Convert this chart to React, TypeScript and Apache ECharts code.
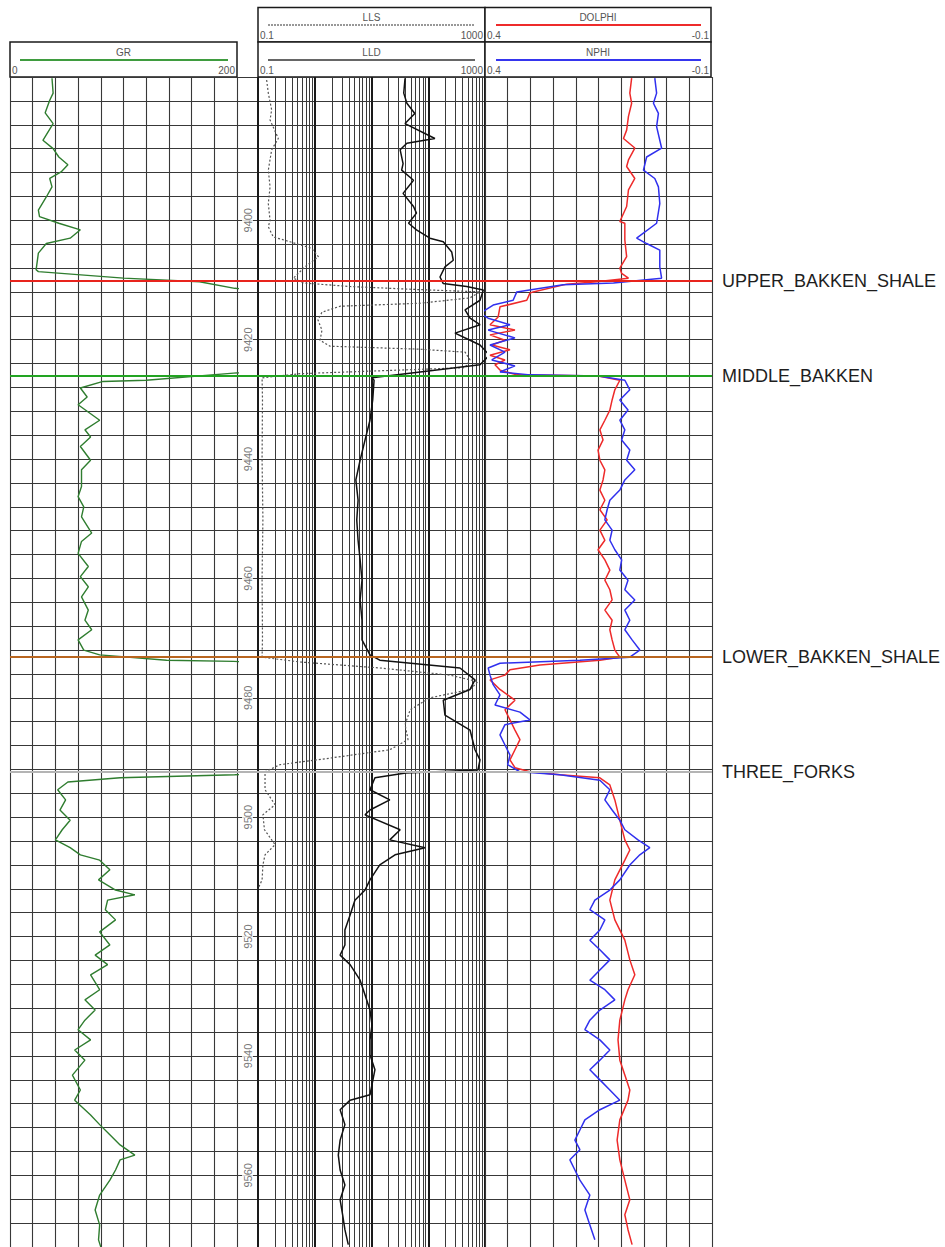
import React, { useEffect, useRef } from "react";
import * as echarts from "echarts";

// ---------- DATA ----------
const depthMin = 9376;
const depthMax = 9572;
const depthStep = 4;
const depthLabels = [9400, 9420, 9440, 9460, 9480, 9500, 9520, 9540, 9560];

const topNames = ["UPPER_BAKKEN_SHALE", "MIDDLE_BAKKEN", "LOWER_BAKKEN_SHALE", "THREE_FORKS"];
const topDepths = [9410.1, 9426.1, 9473.2, 9492.4];

const logMinorTicks = [
  0.2, 0.3, 0.4, 0.5, 0.6, 0.7, 0.8, 0.9,
  2, 3, 4, 5, 6, 7, 8, 9,
  20, 30, 40, 50, 60, 70, 80, 90,
  200, 300, 400, 500, 600, 700, 800, 900,
];

// [depth, GR (API)]
const grLog = [
  [9376.2, 37], [9378.7, 38], [9379.9, 35], [9382.0, 31], [9383.8, 38], [9386.6, 29], [9388.0, 38],
  [9389.4, 43], [9390.7, 51], [9391.9, 45], [9393.0, 35], [9394.4, 37], [9396.1, 32], [9398.3, 25],
  [9399.4, 26], [9400.5, 43], [9401.6, 62], [9403.0, 53], [9403.9, 32], [9405.5, 25], [9408.3, 23],
  [9408.6, 25], [9409.7, 100], [9410.3, 167], [9411.4, 198], [9412.0, 240], [9418.0, 320], [9425.0, 250],
  [9425.6, 197], [9426.8, 120], [9427.0, 82], [9428.1, 62], [9429.6, 68], [9430.9, 60], [9433.5, 79],
  [9435.1, 66], [9436.3, 71], [9437.9, 62], [9440.2, 71], [9441.8, 63], [9444.6, 63], [9446.3, 60],
  [9448.0, 65], [9449.7, 63], [9452.4, 72], [9453.8, 63], [9455.8, 60], [9458.0, 69], [9459.7, 62],
  [9461.4, 69], [9463.1, 63], [9465.3, 69], [9467.0, 66], [9468.6, 72], [9470.3, 60], [9472.0, 65],
  [9472.8, 79], [9473.7, 138], [9473.9, 197], [9474.5, 260], [9483.0, 400], [9492.4, 260], [9492.9, 198],
  [9493.4, 97], [9494.1, 51], [9495.4, 42], [9497.1, 49], [9498.8, 44], [9500.5, 53], [9502.1, 46],
  [9503.8, 40], [9505.1, 53], [9506.3, 62], [9507.2, 79], [9508.8, 88], [9510.5, 78], [9512.2, 93],
  [9513.0, 110], [9513.9, 86], [9515.5, 84], [9517.2, 93], [9519.2, 79], [9521.4, 88], [9523.1, 75],
  [9524.7, 86], [9526.4, 71], [9528.9, 79], [9530.6, 66], [9532.3, 75], [9534.0, 66], [9535.6, 60],
  [9537.3, 71], [9539.0, 57], [9540.7, 66], [9543.2, 55], [9545.7, 62], [9547.4, 57], [9549.9, 71],
  [9551.5, 79], [9553.2, 88], [9554.9, 97], [9556.6, 110], [9557.4, 97], [9559.1, 93], [9560.8, 88],
  [9563.3, 79], [9565.8, 75], [9568.3, 79], [9570.8, 78], [9572.0, 80],
];

// [depth, LLD (ohm.m)]
const lldLog = [
  [9376.2, 39], [9378.7, 37], [9380.4, 42], [9382.1, 58], [9383.8, 39], [9386.3, 131], [9387.1, 42],
  [9388.2, 32], [9390.5, 36], [9391.6, 34], [9393.3, 55], [9395.5, 36], [9397.7, 55], [9398.8, 62],
  [9400.5, 45], [9401.6, 62], [9403.0, 107], [9403.6, 184], [9405.3, 259], [9406.7, 276], [9407.8, 197],
  [9409.5, 161], [9410.6, 184], [9411.1, 476], [9411.7, 933], [9413.4, 817], [9415.0, 445], [9416.4, 545],
  [9417.5, 817], [9418.9, 296], [9420.1, 545], [9420.9, 817], [9422.6, 1200], [9424.2, 817], [9425.4, 72],
  [9426.4, 10.2], [9426.8, 11.1], [9430.1, 10.5], [9433.5, 9.4], [9436.8, 7.7], [9440.2, 6.3], [9443.5, 5.3],
  [9446.9, 5.8], [9450.2, 5.5], [9453.6, 5.8], [9456.9, 6.3], [9460.3, 6.8], [9463.6, 6.3], [9467.0, 6.8],
  [9470.3, 6.8], [9472.8, 9.4], [9473.7, 14], [9475.0, 362], [9477.0, 666], [9478.6, 545], [9480.4, 184],
  [9482.9, 197], [9485.4, 545], [9488.7, 666], [9490.4, 817], [9492.1, 750], [9492.6, 40], [9493.4, 11.5],
  [9495.4, 9.4], [9497.1, 21], [9498.8, 9.4], [9499.6, 7.7], [9502.1, 32], [9503.8, 21], [9505.1, 88],
  [9506.3, 26], [9508.0, 14], [9510.5, 9.4], [9512.2, 7.7], [9513.9, 5.1], [9516.4, 4.2], [9518.9, 3.4],
  [9521.4, 3.4], [9523.1, 2.8], [9524.7, 4.2], [9527.3, 6.3], [9529.8, 7.7], [9532.3, 9.4], [9534.8, 10.2],
  [9537.3, 9.4], [9539.8, 9.4], [9542.3, 11.5], [9544.8, 10.2], [9546.5, 9.4], [9547.4, 4.2], [9549.0, 2.8],
  [9551.5, 3.4], [9554.1, 2.8], [9556.6, 2.6], [9559.1, 2.8], [9561.6, 3.4], [9564.1, 2.8], [9566.6, 3.1],
  [9569.1, 3.4], [9571.6, 3.9],
];

// [depth, LLS (ohm.m)]
const llsLog = [
  [9376.5, 0.142], [9378.7, 0.152], [9381.5, 0.174], [9383.2, 0.163], [9386.3, 0.228], [9388.2, 0.174],
  [9391.6, 0.152], [9394.4, 0.163], [9397.2, 0.152], [9400.0, 0.163], [9401.1, 0.152], [9402.8, 0.186],
  [9403.6, 0.366], [9404.7, 0.88], [9406.1, 1.16], [9407.8, 0.67], [9409.7, 0.42], [9410.5, 0.63],
  [9411.1, 4.2], [9411.6, 62], [9412.0, 817], [9413.0, 545], [9413.9, 72], [9414.4, 2.8], [9415.4, 1.34],
  [9416.7, 1.14], [9418.4, 1.34], [9420.1, 1.24], [9421.1, 1.86], [9421.6, 72], [9422.1, 445], [9423.4, 545],
  [9424.7, 445], [9425.7, 0.55], [9426.4, 0.118], [9430.0, 0.12], [9440.0, 0.118], [9450.0, 0.122],
  [9460.0, 0.118], [9470.0, 0.12], [9473.2, 0.118], [9474.0, 0.55], [9475.0, 14], [9476.2, 241], [9477.3, 753],
  [9478.6, 545], [9480.0, 107], [9482.0, 48], [9484.5, 39], [9487.0, 44], [9488.7, 21], [9490.1, 1.86],
  [9491.2, 0.244], [9492.4, 0.133], [9495.4, 0.133], [9497.9, 0.2], [9499.6, 0.122], [9502.1, 0.13],
  [9504.6, 0.2], [9506.3, 0.133], [9508.0, 0.122], [9510.5, 0.118], [9512.0, 0.1],
];

// [depth, DOLPHI (v/v)]
const dolphiLog = [
  [9376.2, 0.077], [9378.7, 0.081], [9380.4, 0.077], [9382.6, 0.084], [9384.9, 0.088], [9386.3, 0.095],
  [9387.9, 0.07], [9389.9, 0.084], [9391.0, 0.088], [9393.0, 0.07], [9394.9, 0.084], [9397.7, 0.088],
  [9400.2, 0.103], [9400.5, 0.092], [9403.3, 0.092], [9406.1, 0.088], [9408.0, 0.103], [9408.9, 0.099],
  [9409.7, 0.084], [9410.3, 0.154], [9410.7, 0.22], [9412.0, 0.294], [9412.2, 0.301], [9413.4, 0.308],
  [9414.5, 0.367], [9416.2, 0.371], [9417.5, 0.389], [9418.4, 0.334], [9419.2, 0.389], [9420.1, 0.356],
  [9420.9, 0.385], [9421.7, 0.345], [9422.6, 0.389], [9423.4, 0.356], [9424.2, 0.378], [9425.1, 0.367],
  [9425.9, 0.33], [9426.1, 0.15], [9426.8, 0.103], [9428.4, 0.114], [9430.1, 0.12], [9431.8, 0.125],
  [9433.5, 0.136], [9435.1, 0.147], [9436.8, 0.14], [9438.5, 0.151], [9440.2, 0.147], [9441.8, 0.136],
  [9443.5, 0.14], [9445.2, 0.147], [9446.9, 0.136], [9448.5, 0.147], [9450.2, 0.131], [9451.9, 0.147],
  [9453.6, 0.136], [9455.2, 0.151], [9456.9, 0.136], [9458.6, 0.125], [9460.3, 0.136], [9461.9, 0.125],
  [9463.6, 0.12], [9465.3, 0.136], [9467.0, 0.12], [9468.6, 0.125], [9470.3, 0.12], [9472.0, 0.114],
  [9473.2, 0.103], [9473.7, 0.147], [9474.5, 0.279], [9475.3, 0.345], [9476.2, 0.356], [9477.0, 0.389],
  [9478.6, 0.367], [9480.4, 0.334], [9482.0, 0.356], [9483.7, 0.345], [9485.4, 0.334], [9487.0, 0.323],
  [9488.7, 0.334], [9490.4, 0.345], [9491.7, 0.334], [9492.4, 0.301], [9492.9, 0.235], [9493.4, 0.147],
  [9494.6, 0.125], [9497.1, 0.114], [9500.5, 0.103], [9503.8, 0.092], [9505.5, 0.081], [9507.2, 0.092],
  [9510.5, 0.114], [9513.9, 0.125], [9517.2, 0.114], [9520.6, 0.092], [9523.9, 0.081], [9526.4, 0.07],
  [9528.9, 0.085], [9530.6, 0.092], [9534.0, 0.103], [9537.3, 0.107], [9540.7, 0.103], [9543.2, 0.092],
  [9545.7, 0.081], [9547.4, 0.085], [9550.7, 0.103], [9554.1, 0.109], [9557.4, 0.103], [9560.8, 0.092],
  [9564.1, 0.081], [9566.6, 0.092], [9569.1, 0.085], [9571.6, 0.076],
];

// [depth, NPHI (v/v)]
const nphiLog = [
  [9376.2, 0.026], [9378.7, 0.022], [9380.4, 0.029], [9382.1, 0.018], [9384.3, 0.022], [9387.9, 0.011],
  [9389.4, 0.044], [9391.6, 0.051], [9393.0, 0.026], [9394.4, 0.018], [9397.2, 0.015], [9400.5, 0.022],
  [9403.0, 0.066], [9403.9, 0.044], [9405.0, 0.015], [9407.8, 0.015], [9409.7, 0.011], [9410.5, 0.117],
  [9410.8, 0.228], [9412.0, 0.33], [9413.4, 0.338], [9414.2, 0.382], [9415.6, 0.411], [9416.4, 0.393],
  [9417.5, 0.345], [9418.4, 0.393], [9419.7, 0.334], [9420.9, 0.389], [9422.1, 0.356], [9423.4, 0.385],
  [9424.4, 0.334], [9425.4, 0.367], [9425.9, 0.3], [9426.1, 0.15], [9426.8, 0.092], [9428.4, 0.081],
  [9430.1, 0.103], [9431.8, 0.085], [9433.5, 0.103], [9435.1, 0.092], [9436.8, 0.099], [9438.5, 0.081],
  [9440.2, 0.088], [9441.8, 0.07], [9443.5, 0.092], [9445.2, 0.103], [9446.9, 0.125], [9448.5, 0.131],
  [9450.2, 0.136], [9451.9, 0.12], [9453.6, 0.125], [9455.2, 0.114], [9456.9, 0.099], [9458.6, 0.103],
  [9460.3, 0.085], [9461.9, 0.092], [9463.6, 0.07], [9465.3, 0.092], [9467.0, 0.081], [9468.6, 0.092],
  [9470.3, 0.076], [9472.0, 0.059], [9473.2, 0.081], [9473.7, 0.191], [9474.2, 0.367], [9475.0, 0.393],
  [9476.2, 0.389], [9477.8, 0.382], [9479.5, 0.367], [9481.2, 0.378], [9482.4, 0.323], [9483.7, 0.301],
  [9484.5, 0.356], [9486.2, 0.367], [9487.9, 0.356], [9489.6, 0.345], [9491.2, 0.35], [9492.4, 0.323],
  [9492.9, 0.235], [9493.8, 0.147], [9495.4, 0.125], [9497.1, 0.136], [9498.8, 0.12], [9500.5, 0.103],
  [9502.1, 0.092], [9503.8, 0.063], [9505.1, 0.037], [9506.3, 0.059], [9508.0, 0.081], [9510.5, 0.103],
  [9512.2, 0.125], [9513.9, 0.158], [9515.5, 0.169], [9517.2, 0.136], [9518.9, 0.147], [9520.6, 0.169],
  [9522.2, 0.147], [9523.9, 0.125], [9525.6, 0.147], [9527.3, 0.169], [9528.9, 0.136], [9530.6, 0.114],
  [9532.3, 0.147], [9534.0, 0.169], [9535.6, 0.18], [9537.3, 0.147], [9539.0, 0.125], [9540.7, 0.147],
  [9542.3, 0.169], [9544.0, 0.147], [9545.7, 0.125], [9547.4, 0.103], [9549.0, 0.147], [9550.7, 0.18],
  [9552.4, 0.191], [9554.1, 0.202], [9555.7, 0.191], [9557.4, 0.213], [9559.1, 0.202], [9560.8, 0.191],
  [9563.3, 0.169], [9565.8, 0.18], [9568.3, 0.169], [9570.8, 0.158],
];

// ---------- STYLE / LAYOUT ----------
const FONT = "Arial, 'Liberation Sans', Helvetica, sans-serif";
const GRID_TOP = 77;
const GRID_H = 1170;
const GR_LEFT = 10;
const RES_LEFT = 258;
const POR_LEFT = 485;
const TRACK_W = 227;
const topColors = ["#e8241d", "#22a422", "#b8651f", "#b4b4b4"];
const gridColor = "#383838";

const toXY = (arr: number[][]) => arr.map(([d, v]) => [v, d]);

function headerGraphics() {
  const box = (x: number, y: number, w: number, h: number) => ({
    type: "rect",
    silent: true,
    shape: { x, y, width: w, height: h },
    style: { fill: "#fff", stroke: "#1a1a1a", lineWidth: 1.5 },
  });
  const txt = (x: number, y: number, text: string, align: string, size = 10) => ({
    type: "text",
    silent: true,
    x,
    y,
    style: {
      text,
      fill: "#555",
      font: `${size}px ${FONT}`,
      textAlign: align,
      align,
      textVerticalAlign: "middle",
      verticalAlign: "middle",
    },
  });
  const ln = (x1: number, x2: number, y: number, color: string, width: number, dash?: number[]) => ({
    type: "line",
    silent: true,
    shape: { x1, y1: y, x2, y2: y },
    style: { stroke: color, lineWidth: width, lineDash: dash },
  });
  const els: any[] = [];
  // GR header
  els.push(box(GR_LEFT, 42, TRACK_W, 35));
  els.push(txt(GR_LEFT + TRACK_W / 2, 52, "GR", "center"));
  els.push(ln(GR_LEFT + 10, GR_LEFT + TRACK_W - 9, 60, "#3f9c3f", 2));
  els.push(txt(GR_LEFT + 2, 70, "0", "left"));
  els.push(txt(GR_LEFT + TRACK_W - 2, 70, "200", "right"));
  // Resistivity header
  els.push(box(RES_LEFT, 7.5, TRACK_W, 34.5));
  els.push(box(RES_LEFT, 42, TRACK_W, 35));
  els.push(txt(RES_LEFT + TRACK_W / 2, 17, "LLS", "center"));
  els.push(ln(RES_LEFT + 10, RES_LEFT + TRACK_W - 10, 25, "#777", 1.5, [2, 1]));
  els.push(txt(RES_LEFT + 2, 35, "0.1", "left"));
  els.push(txt(RES_LEFT + TRACK_W - 2, 35, "1000", "right"));
  els.push(txt(RES_LEFT + TRACK_W / 2, 52, "LLD", "center"));
  els.push(ln(RES_LEFT + 10, RES_LEFT + TRACK_W - 10, 60, "#333", 1.5));
  els.push(txt(RES_LEFT + 2, 70, "0.1", "left"));
  els.push(txt(RES_LEFT + TRACK_W - 2, 70, "1000", "right"));
  // Porosity header
  els.push(box(POR_LEFT, 7.5, TRACK_W - 1, 34.5));
  els.push(box(POR_LEFT, 42, TRACK_W - 1, 35));
  els.push(txt(POR_LEFT + 113, 17, "DOLPHI", "center"));
  els.push(ln(POR_LEFT + 11, POR_LEFT + 216, 25, "#ee2b2b", 2));
  els.push(txt(POR_LEFT + 2, 35, "0.4", "left"));
  els.push(txt(POR_LEFT + TRACK_W - 3, 35, "-0.1", "right"));
  els.push(txt(POR_LEFT + 113, 52, "NPHI", "center"));
  els.push(ln(POR_LEFT + 11, POR_LEFT + 216, 60, "#3535ee", 2));
  els.push(txt(POR_LEFT + 2, 70, "0.4", "left"));
  els.push(txt(POR_LEFT + TRACK_W - 3, 70, "-0.1", "right"));
  return els;
}

export default function App() {
  const ref = useRef<HTMLDivElement>(null);

  useEffect(() => {
    if (!ref.current) return;
    const chart = echarts.init(ref.current, undefined, { renderer: "svg" });

    const hiddenY = (gridIndex: number) => ({
      type: "value",
      gridIndex,
      inverse: true,
      min: depthMin,
      max: depthMax,
      show: false,
    });
    const noAxisBits = {
      axisLine: { show: false },
      axisTick: { show: false },
      axisLabel: { show: false },
    };

    const option: any = {
      animation: false,
      backgroundColor: "#fff",
      grid: [
        { left: GR_LEFT, top: GRID_TOP, width: TRACK_W, height: GRID_H },
        { left: RES_LEFT, top: GRID_TOP, width: TRACK_W, height: GRID_H },
        { left: POR_LEFT, top: GRID_TOP, width: TRACK_W, height: GRID_H },
        { left: GR_LEFT, top: GRID_TOP, width: POR_LEFT + TRACK_W - GR_LEFT, height: GRID_H },
        { left: GR_LEFT + TRACK_W, top: GRID_TOP, width: RES_LEFT - GR_LEFT - TRACK_W, height: GRID_H },
      ],
      xAxis: [
        {
          type: "value", gridIndex: 0, min: 0, max: 200, interval: 20, position: "top",
          ...noAxisBits,
          splitLine: { show: true, lineStyle: { color: gridColor, width: 1.1 } },
        },
        {
          type: "log", logBase: 10, gridIndex: 1, min: 0.1, max: 1000, position: "top",
          ...noAxisBits,
          splitLine: { show: true, lineStyle: { color: "#1a1a1a", width: 2 } },
        },
        {
          type: "value", gridIndex: 2, min: -0.1, max: 0.4, interval: 0.05, inverse: true, position: "top",
          ...noAxisBits,
          splitLine: { show: true, lineStyle: { color: gridColor, width: 1.1 } },
        },
        { type: "value", gridIndex: 3, min: 0, max: 1, show: false },
        { type: "value", gridIndex: 4, min: 0, max: 1, show: false },
      ],
      yAxis: [
        hiddenY(0),
        hiddenY(1),
        hiddenY(2),
        {
          type: "value", gridIndex: 3, inverse: true, min: depthMin, max: depthMax, interval: depthStep,
          ...noAxisBits,
          splitLine: { show: true, lineStyle: { color: gridColor, width: 1.1 } },
        },
        hiddenY(4),
      ],
      graphic: headerGraphics(),
      series: [
        {
          name: "logMinor",
          type: "line",
          xAxisIndex: 1,
          yAxisIndex: 1,
          data: [],
          silent: true,
          markLine: {
            silent: true,
            z: 1,
            symbol: ["none", "none"],
            label: { show: false },
            lineStyle: { color: "#3a3a3a", width: 1, type: "solid" },
            data: logMinorTicks.map((v) => ({ xAxis: v })),
          },
        },
        {
          name: "GR",
          type: "line",
          xAxisIndex: 0,
          yAxisIndex: 0,
          data: toXY(grLog),
          showSymbol: false,
          symbol: "none",
          z: 3,
          lineStyle: { color: "#2f7d2f", width: 1.4 },
        },
        {
          name: "LLS",
          type: "line",
          xAxisIndex: 1,
          yAxisIndex: 1,
          data: toXY(llsLog),
          showSymbol: false,
          symbol: "none",
          z: 3,
          lineStyle: { color: "#555", width: 1.2, type: [2, 2] },
        },
        {
          name: "LLD",
          type: "line",
          xAxisIndex: 1,
          yAxisIndex: 1,
          data: toXY(lldLog),
          showSymbol: false,
          symbol: "none",
          z: 3,
          lineStyle: { color: "#111", width: 1.5 },
        },
        {
          name: "DOLPHI",
          type: "line",
          xAxisIndex: 2,
          yAxisIndex: 2,
          data: toXY(dolphiLog),
          showSymbol: false,
          symbol: "none",
          z: 3,
          lineStyle: { color: "#ee2a2a", width: 1.5 },
        },
        {
          name: "NPHI",
          type: "line",
          xAxisIndex: 2,
          yAxisIndex: 2,
          data: toXY(nphiLog),
          showSymbol: false,
          symbol: "none",
          z: 3,
          lineStyle: { color: "#3030ee", width: 1.5 },
        },
        {
          name: "tops",
          type: "line",
          xAxisIndex: 3,
          yAxisIndex: 3,
          data: [],
          markLine: {
            silent: true,
            z: 6,
            symbol: ["none", "none"],
            lineStyle: { width: 2, type: "solid" },
            label: {
              show: true,
              position: "end",
              formatter: "{b}",
              distance: 10,
              fontSize: 18,
              fontFamily: FONT,
              color: "#1e1e1e",
            },
            data: topDepths.map((d, i) => ({
              yAxis: d,
              name: topNames[i],
              lineStyle: { color: topColors[i] },
            })),
          },
        },
        {
          name: "depth",
          type: "scatter",
          xAxisIndex: 4,
          yAxisIndex: 4,
          symbolSize: 1,
          z: 4,
          itemStyle: { color: "rgba(0,0,0,0)" },
          data: depthLabels.map((d) => [0.5, d]),
          label: {
            show: true,
            position: "inside",
            rotate: 90,
            formatter: (p: any) => String(p.value[1]),
            fontSize: 11,
            fontFamily: FONT,
            color: "#555",
            backgroundColor: "#fff",
            padding: [0, 2],
          },
        },
      ],
    };

    chart.setOption(option);
    return () => chart.dispose();
  }, []);

  return (
    <div
      ref={ref}
      style={{ position: "fixed", left: 0, top: 0, width: 945, height: 1247, background: "#fff" }}
    />
  );
}
